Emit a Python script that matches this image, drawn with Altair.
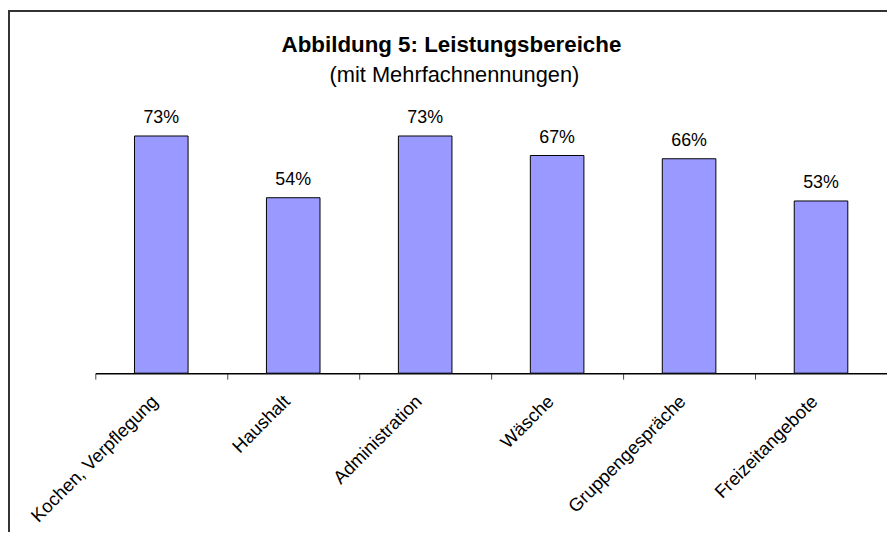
import altair as alt
import pandas as pd

categories = ["Kochen, Verpflegung", "Haushalt", "Administration", "Wäsche",
              "Gruppengespräche", "Freizeitangebote"]
values = [0.73, 0.54, 0.73, 0.67, 0.66, 0.53]
labels = ["73%", "54%", "73%", "67%", "66%", "53%"]
title_text = "Abbildung 5: Leistungsbereiche"
subtitle_text = "(mit Mehrfachnennungen)"

df = pd.DataFrame({"cat": categories, "val": values, "lab": labels})

FONT = "Liberation Sans"

x_enc = alt.X(
    "cat:N", sort=categories, title=None,
    scale=alt.Scale(paddingInner=0, paddingOuter=0),
    axis=alt.Axis(
        labelAngle=-45, labelAlign="right", labelBaseline="middle",
        labelFont=FONT, labelFontSize=18.5, labelColor="black",
        labelPadding=19, labelOffset=-7, tickSize=6, tickBand="extent",
        tickColor="#444444", domainColor="black", domainWidth=1.5,
        grid=False, labelOverlap=False,
    ),
)
y_enc = alt.Y("val:Q", scale=alt.Scale(domain=[0, 0.8]), axis=None)

base = alt.Chart(df)
bars = base.mark_bar(size=54, color="#9999FF", stroke="black", strokeWidth=1).encode(
    x=x_enc, y=y_enc
)
texts = base.mark_text(dy=-13, baseline="alphabetic", font=FONT, fontSize=18,
                       color="black").encode(x=x_enc, y=y_enc, text="lab:N")

frame_df = pd.DataFrame({"k": [0]})
top_line = alt.Chart(frame_df).mark_rule(color="#333333", strokeWidth=2).encode(
    x=alt.value(-88), x2=alt.value(798), y=alt.value(-103)
)
left_line = alt.Chart(frame_df).mark_rule(color="#333333", strokeWidth=2).encode(
    x=alt.value(-87), y=alt.value(-104), y2=alt.value(430)
)

title_df = pd.DataFrame({"t": [title_text]})
sub_df = pd.DataFrame({"t": [subtitle_text]})
title_mark = alt.Chart(title_df).mark_text(
    font=FONT, fontSize=22.5, fontWeight="bold", color="black",
    align="center", baseline="alphabetic"
).encode(x=alt.value(359), y=alt.value(-62), text="t:N")
sub_mark = alt.Chart(sub_df).mark_text(
    font=FONT, fontSize=22, color="black", align="center", baseline="alphabetic"
).encode(x=alt.value(362), y=alt.value(-31), text="t:N")

chart = alt.layer(top_line, left_line, bars, texts, title_mark, sub_mark).properties(
    width=798, height=262,
    padding={"left": 88, "top": 104, "right": 0, "bottom": 158},
    autosize=alt.AutoSizeParams(type="none"),
    background="white",
).configure_view(stroke=None)

chart.save("out.html", embed_options={"renderer": "svg", "actions": False})
